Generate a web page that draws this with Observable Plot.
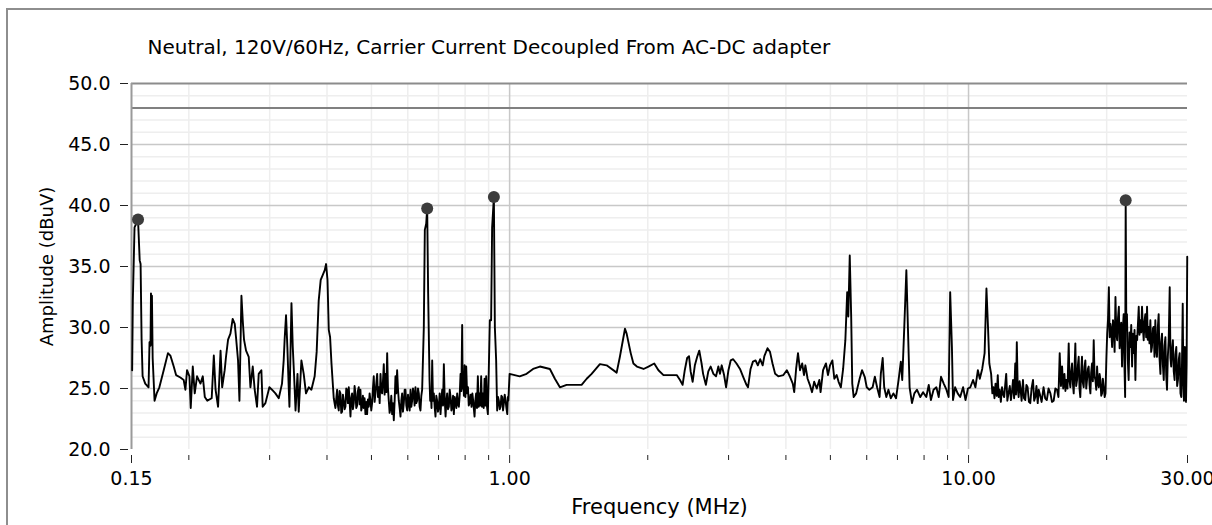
<!DOCTYPE html>
<html><head><meta charset="utf-8">
<script src="https://cdn.jsdelivr.net/npm/d3@7"></script>
<script src="https://cdn.jsdelivr.net/npm/@observablehq/plot@0.6"></script>
<style>
html,body{margin:0;padding:0;background:#fff;}
#chart{width:1212px;height:525px;}
#chart svg{display:block;}
</style></head><body>
<div id="chart"></div>
<script>
const title = "Neutral, 120V/60Hz, Carrier Current Decoupled From AC-DC adapter";
const xLabel = "Frequency (MHz)";
const yLabel = "Amplitude (dBuV)";
const xLabelTicks = [0.15, 1, 10, 30];
const xMinorTicks = [0.2,0.3,0.4,0.5,0.6,0.7,0.8,0.9,2,3,4,5,6,7,8,9,20];
const xGridMajor = [1, 10];
const yTicks = [20, 25, 30, 35, 40, 45, 50];
const yMinorTicks = [21,22,23,24,26,27,28,29,31,32,33,34,36,37,38,39,41,42,43,44,46,47,49];
const limitLine = 48;

// [frequency MHz, amplitude dBuV], 0.15–1 MHz band
const lowBand = [[0.1505,26.5],[0.151,32.2],[0.1523,38.2],[0.155,38.85],[0.1563,35.5],[0.157,35.2],[0.1578,29.0],[0.1586,26.0],[0.1607,25.4],[0.1634,25.1],[0.1642,28.8],[0.1650,28.5],[0.1654,32.8],[0.1658,28.6],[0.1662,32.6],[0.1668,27.5],[0.1684,24.0],[0.1702,24.6],[0.1725,25.1],[0.1763,26.5],[0.1801,27.9],[0.1823,27.7],[0.1854,26.8],[0.1876,26.1],[0.1917,25.9],[0.1949,25.7],[0.1966,24.9],[0.1982,26.5],[0.2006,26.0],[0.2019,23.4],[0.2040,26.8],[0.2060,24.6],[0.2084,26.0],[0.2120,25.4],[0.2145,26.0],[0.2167,24.3],[0.2194,24.0],[0.2243,24.2],[0.2267,27.7],[0.2287,24.9],[0.2316,23.5],[0.2345,28.1],[0.2364,25.1],[0.2394,26.5],[0.2410,27.6],[0.2435,29.0],[0.2464,29.5],[0.2492,30.7],[0.2518,30.3],[0.2534,29.2],[0.2560,27.3],[0.2578,24.0],[0.2604,32.6],[0.2621,30.6],[0.2638,29.0],[0.2665,28.1],[0.2701,27.6],[0.2724,25.1],[0.2756,26.8],[0.2783,24.9],[0.2816,23.5],[0.2840,26.2],[0.2878,26.5],[0.2897,23.5],[0.2937,23.8],[0.2996,25.1],[0.3035,24.9],[0.3088,24.6],[0.3140,24.2],[0.3192,25.4],[0.3219,27.3],[0.3235,29.1],[0.3257,31.0],[0.3279,28.4],[0.3301,25.1],[0.3313,23.5],[0.3347,32.0],[0.3369,28.4],[0.3392,26.0],[0.3416,23.2],[0.3450,26.2],[0.3471,23.1],[0.3518,27.3],[0.3559,26.2],[0.3600,24.6],[0.3650,25.1],[0.3699,24.9],[0.3760,26.0],[0.3798,28.0],[0.3837,32.2],[0.3876,33.9],[0.3915,34.3],[0.3955,34.7],[0.3982,35.2],[0.4010,33.9],[0.4036,29.8],[0.4063,29.2],[0.4092,27.0],[0.4138,24.2],[0.4173,23.4],[0.4208,24.9],[0.4225,23.6],[0.4243,23.2],[0.4261,24.8],[0.4279,24.6],[0.4297,23.0],[0.4315,23.1],[0.4333,24.5],[0.4351,24.0],[0.4370,23.3],[0.4388,23.5],[0.4406,25.0],[0.4425,24.9],[0.4443,23.8],[0.4462,25.1],[0.4481,23.9],[0.4500,22.7],[0.4518,24.2],[0.4537,24.6],[0.4556,23.3],[0.4575,23.8],[0.4594,25.2],[0.4614,24.6],[0.4633,23.4],[0.4652,23.6],[0.4671,24.8],[0.4691,25.1],[0.4711,23.7],[0.4731,24.9],[0.4750,23.2],[0.4770,23.5],[0.4790,24.4],[0.4810,23.4],[0.4830,24.2],[0.4851,22.9],[0.4871,23.9],[0.4892,22.9],[0.4912,24.1],[0.4933,23.5],[0.4954,24.6],[0.4975,24.0],[0.4995,23.2],[0.5016,23.8],[0.5037,25.0],[0.5058,26.0],[0.5080,23.9],[0.5101,24.6],[0.5123,25.4],[0.5145,26.2],[0.5166,24.3],[0.5188,25.1],[0.5210,23.8],[0.5232,26.2],[0.5253,24.8],[0.5275,24.6],[0.5297,25.6],[0.5319,27.0],[0.5341,24.5],[0.5364,26.2],[0.5387,24.7],[0.5410,27.9],[0.5432,25.0],[0.5454,24.0],[0.5477,23.0],[0.5500,23.4],[0.5523,24.4],[0.5546,22.9],[0.5570,23.8],[0.5593,22.4],[0.5617,24.0],[0.5640,26.0],[0.5663,24.6],[0.5687,26.5],[0.5711,25.0],[0.5735,24.0],[0.5760,23.4],[0.5784,22.7],[0.5808,24.0],[0.5832,24.6],[0.5856,23.1],[0.5881,23.8],[0.5906,24.9],[0.5931,24.9],[0.5956,23.6],[0.5981,23.2],[0.6006,24.5],[0.6031,23.8],[0.6056,23.2],[0.6082,24.9],[0.6107,23.5],[0.6132,24.0],[0.6158,25.0],[0.6183,24.6],[0.6209,23.6],[0.6235,25.1],[0.6261,23.8],[0.6288,24.0],[0.6314,25.0],[0.6341,24.6],[0.6367,23.5],[0.6394,23.2],[0.6421,24.4],[0.6448,24.9],[0.6502,30.0],[0.6535,38.0],[0.6580,38.5],[0.6613,39.75],[0.6645,32.8],[0.6691,25.7],[0.6713,24.0],[0.6736,24.6],[0.6758,23.4],[0.6781,27.3],[0.6809,24.0],[0.6837,24.6],[0.6866,23.5],[0.6895,22.7],[0.6923,24.4],[0.6952,24.0],[0.6981,23.1],[0.7011,23.5],[0.7041,24.6],[0.7071,22.9],[0.7100,24.0],[0.7130,24.9],[0.7160,23.6],[0.7190,27.0],[0.7221,24.1],[0.7252,22.7],[0.7281,24.0],[0.7310,24.6],[0.7341,23.3],[0.7373,23.5],[0.7404,24.9],[0.7436,24.3],[0.7467,23.2],[0.7498,23.5],[0.7529,24.4],[0.7560,22.9],[0.7592,24.3],[0.7624,24.0],[0.7655,23.4],[0.7687,24.6],[0.7719,23.7],[0.7752,23.5],[0.7785,24.5],[0.7818,26.2],[0.7850,24.8],[0.7882,30.2],[0.7902,25.0],[0.7922,26.2],[0.7950,24.4],[0.7978,26.9],[0.8010,24.3],[0.8043,26.8],[0.8078,24.6],[0.8114,25.1],[0.8146,23.6],[0.8178,23.8],[0.8220,24.5],[0.8261,23.5],[0.8295,24.6],[0.8329,24.0],[0.8358,23.3],[0.8387,22.7],[0.8420,24.0],[0.8454,24.6],[0.8490,23.4],[0.8527,26.0],[0.8563,23.5],[0.8600,24.6],[0.8635,23.6],[0.8670,26.0],[0.8707,23.5],[0.8744,24.6],[0.8781,23.4],[0.8819,25.8],[0.8855,23.6],[0.8891,26.0],[0.8929,23.5],[0.8967,22.9],[0.9055,30.6],[0.9114,30.6],[0.9160,38.2],[0.9241,40.7],[0.9287,30.0],[0.9347,27.3],[0.9394,23.2],[0.9435,24.3],[0.9476,24.0],[0.9516,23.3],[0.9557,23.5],[0.9596,24.4],[0.9636,24.3],[0.9676,23.2],[0.9716,23.8],[0.9758,24.5],[0.9800,24.0],[0.9841,23.4],[0.9883,22.9],[0.9910,24.3],[0.9935,24.0]];

// [frequency MHz, amplitude dBuV], 1–30 MHz band
const highBand = [[1.000,26.2],[1.052,26.0],[1.089,26.2],[1.125,26.6],[1.164,26.8],[1.224,26.6],[1.255,25.8],[1.287,25.1],[1.331,25.3],[1.435,25.3],[1.472,25.8],[1.509,26.2],[1.573,27.0],[1.627,26.9],[1.711,26.3],[1.739,27.6],[1.784,29.9],[1.799,29.5],[1.836,27.9],[1.861,27.05],[1.894,26.8],[1.958,26.6],[2.007,26.8],[2.066,27.05],[2.110,26.5],[2.164,26.1],[2.313,26.1],[2.351,25.7],[2.382,25.3],[2.408,26.5],[2.437,27.5],[2.460,27.65],[2.480,26.4],[2.505,25.55],[2.533,26.9],[2.563,27.6],[2.590,28.1],[2.620,27.05],[2.640,26.2],[2.677,25.3],[2.710,26.4],[2.742,26.8],[2.780,26.2],[2.817,26.0],[2.850,26.8],[2.873,26.2],[2.898,26.9],[2.933,26.1],[2.963,25.1],[2.998,26.5],[3.032,27.3],[3.070,27.4],[3.122,27.05],[3.177,26.6],[3.228,25.96],[3.282,25.3],[3.307,25.1],[3.350,26.6],[3.390,27.2],[3.435,27.3],[3.474,26.9],[3.515,27.4],[3.560,26.9],[3.590,27.65],[3.647,28.3],[3.693,28.0],[3.740,27.05],[3.790,26.2],[3.850,26.0],[3.950,26.1],[4.018,26.5],[4.083,25.96],[4.140,25.4],[4.170,24.7],[4.210,26.6],[4.250,27.9],[4.293,26.5],[4.340,27.05],[4.380,26.1],[4.410,26.9],[4.460,25.8],[4.510,25.3],[4.560,24.7],[4.610,25.55],[4.670,25.0],[4.730,25.7],[4.760,24.7],[4.820,26.5],[4.890,27.05],[4.940,26.1],[4.990,26.9],[5.050,27.3],[5.100,25.8],[5.160,26.1],[5.210,25.55],[5.270,25.1],[5.330,26.6],[5.390,28.96],[5.440,32.9],[5.470,30.9],[5.510,35.9],[5.550,30.9],[5.580,25.4],[5.620,24.3],[5.690,24.6],[5.790,25.8],[5.860,26.5],[5.940,25.96],[6.000,25.1],[6.080,24.9],[6.180,25.1],[6.250,25.96],[6.320,25.1],[6.400,24.3],[6.440,26.2],[6.500,27.5],[6.550,25.1],[6.620,24.3],[6.690,24.9],[6.770,24.2],[6.860,24.6],[6.950,24.2],[7.040,25.7],[7.120,27.2],[7.170,25.7],[7.240,29.8],[7.320,34.7],[7.380,29.8],[7.440,25.1],[7.530,23.8],[7.620,24.6],[7.720,24.9],[7.850,24.3],[7.960,24.7],[8.090,24.3],[8.190,25.3],[8.280,24.05],[8.390,24.9],[8.510,25.1],[8.610,24.3],[8.710,25.96],[8.830,25.4],[8.950,24.9],[9.050,24.3],[9.120,32.9],[9.200,28.4],[9.250,24.05],[9.350,25.1],[9.470,24.6],[9.590,24.3],[9.730,25.1],[9.850,24.05],[9.970,25.0],[10.09,25.1],[10.23,25.7],[10.35,25.1],[10.48,26.5],[10.58,25.8],[10.71,26.6],[10.84,27.9],[10.94,33.2],[11.03,29.9],[11.10,27.05],[11.20,26.2],[11.27,24.6],[11.33,25.1],[11.39,24.2],[11.45,25.4],[11.52,24.4],[11.58,26.1],[11.63,24.3],[11.69,24.9],[11.76,23.9],[11.83,25.1],[11.90,24.5],[11.96,24.3],[12.02,25.3],[12.08,26.2],[12.15,24.0],[12.22,24.6],[12.30,25.2],[12.37,24.05],[12.44,24.8],[12.50,25.7],[12.57,24.2],[12.64,27.05],[12.69,24.5],[12.74,28.8],[12.80,25.0],[12.86,24.3],[12.92,25.6],[12.97,25.1],[13.05,24.0],[13.14,25.7],[13.21,24.2],[13.29,24.05],[13.37,25.3],[13.45,25.1],[13.54,23.9],[13.63,23.8],[13.72,25.0],[13.82,25.7],[13.90,24.0],[13.98,24.3],[14.06,25.2],[14.15,23.8],[14.22,24.9],[14.29,24.6],[14.43,23.9],[14.57,25.1],[14.69,24.2],[14.81,24.05],[14.94,25.0],[15.08,24.6],[15.20,23.9],[15.33,24.0],[15.46,25.0],[15.59,24.9],[15.70,24.3],[15.80,27.9],[15.90,25.2],[15.99,26.8],[16.08,25.0],[16.18,26.2],[16.26,24.8],[16.34,25.7],[16.43,25.0],[16.53,28.7],[16.60,25.6],[16.67,25.1],[16.74,26.4],[16.81,27.05],[16.88,25.4],[16.95,24.6],[17.02,26.6],[17.09,28.7],[17.16,25.2],[17.24,25.7],[17.31,26.9],[17.38,27.6],[17.45,25.0],[17.52,24.3],[17.60,26.4],[17.67,27.6],[17.74,25.5],[17.82,25.1],[17.90,26.8],[17.97,27.3],[18.05,25.0],[18.12,25.7],[18.20,26.6],[18.27,26.8],[18.35,25.3],[18.43,24.6],[18.50,26.3],[18.58,27.05],[18.66,25.6],[18.74,28.96],[18.82,26.0],[18.90,25.7],[18.98,24.9],[19.06,26.8],[19.14,25.4],[19.22,25.1],[19.30,26.2],[19.38,25.7],[19.46,24.4],[19.54,24.6],[19.62,25.8],[19.71,25.1],[19.80,24.3],[19.88,24.6],[19.97,27.5],[20.05,29.5],[20.13,30.6],[20.22,33.3],[20.30,29.2],[20.38,30.3],[20.46,29.8],[20.55,28.4],[20.64,30.6],[20.73,30.05],[20.81,28.0],[20.90,32.5],[20.99,29.5],[21.08,28.96],[21.17,30.8],[21.26,31.7],[21.34,28.3],[21.42,29.5],[21.51,30.4],[21.60,26.8],[21.69,29.9],[21.78,31.1],[21.86,27.0],[21.94,24.3],[22.00,40.43],[22.07,30.0],[22.14,31.1],[22.23,27.4],[22.33,25.7],[22.43,29.6],[22.53,28.4],[22.62,30.2],[22.72,26.8],[22.81,29.5],[22.91,27.9],[23.00,29.8],[23.10,25.7],[23.20,29.3],[23.30,28.96],[23.39,30.2],[23.49,31.7],[23.58,29.4],[23.68,30.6],[23.78,29.6],[23.88,31.7],[23.98,30.0],[24.08,28.96],[24.18,30.5],[24.28,31.1],[24.38,29.2],[24.49,31.7],[24.58,29.0],[24.68,30.05],[24.79,28.7],[24.90,30.6],[25.00,28.0],[25.10,28.4],[25.21,29.9],[25.31,30.05],[25.42,27.6],[25.53,30.6],[25.63,28.2],[25.74,27.6],[25.85,30.0],[25.96,31.1],[26.07,27.5],[26.19,26.2],[26.29,28.8],[26.40,29.5],[26.51,27.0],[26.63,25.7],[26.74,28.5],[26.85,29.2],[26.96,26.1],[27.07,24.9],[27.18,27.6],[27.30,28.96],[27.44,33.3],[27.54,27.5],[27.64,26.8],[27.76,28.2],[27.88,28.96],[28.00,26.4],[28.12,25.7],[28.24,27.8],[28.36,28.4],[28.48,25.2],[28.60,25.7],[28.72,27.4],[28.84,27.9],[28.96,24.6],[29.08,24.3],[29.18,27.0],[29.29,31.96],[29.38,25.5],[29.47,24.0],[29.54,26.5],[29.60,28.4],[29.69,24.4],[29.78,23.9],[29.87,27.0],[29.96,35.8]];

// marked peaks [frequency MHz, amplitude dBuV]
const peaks = [[0.155, 38.85], [0.6613, 39.75], [0.9241, 40.7], [22.0, 40.43]];

const spectrum = lowBand.concat(highBand).map(([f, a]) => ({f, a}));
const peakRows = peaks.map(([f, a]) => ({f, a}));

const chart = Plot.plot({
  width: 1212, height: 525,
  marginLeft: 131, marginRight: 25, marginTop: 83, marginBottom: 76,
  style: {fontFamily: "DejaVu Sans", fontSize: "19px", color: "#000", background: "#fff"},
  x: {type: "log", domain: [0.15, 30]},
  y: {domain: [20, 50]},
  marks: [
    Plot.gridY({ticks: yMinorTicks, stroke: "#eeeeee", strokeOpacity: 1, strokeWidth: 1.5}),
    Plot.gridX({ticks: xMinorTicks, stroke: "#eeeeee", strokeOpacity: 1, strokeWidth: 1.5}),
    Plot.gridY({ticks: yTicks.slice(1, -1), stroke: "#c8c8c8", strokeOpacity: 1, strokeWidth: 1.5}),
    Plot.gridX({ticks: xGridMajor, stroke: "#c8c8c8", strokeOpacity: 1, strokeWidth: 1.5}),
    Plot.ruleY([50], {stroke: "#8c8c8c", strokeWidth: 2}),
    Plot.ruleY([limitLine], {stroke: "#808080", strokeWidth: 2}),
    Plot.ruleX([0.15], {stroke: "#9a9a9a", strokeWidth: 2}),
    Plot.line(spectrum, {x: "f", y: "a", stroke: "#000", strokeWidth: 1.9}),
    Plot.dot(peakRows, {x: "f", y: "a", r: 6, fill: "#3c3c3c", stroke: "none"}),
    Plot.axisY({ticks: yTicks, tickSize: 8, dx: -3, tickPadding: 10, tickFormat: d => d.toFixed(1), label: null, stroke: "#222"}),
    Plot.axisX({ticks: xMinorTicks, tickSize: 5, dy: 6, tickFormat: () => "", label: null, stroke: "#222"}),
    Plot.axisX({ticks: xLabelTicks, tickSize: 8, dy: 6, tickFormat: () => "", label: null, stroke: "#222"}),
    Plot.axisX({ticks: xLabelTicks, tickSize: 0, tickPadding: 22, tickFormat: d => d.toFixed(2), label: null}),
    Plot.text([xLabel], {text: d => d, frameAnchor: "bottom", dy: 58, lineAnchor: "middle", fontSize: 21}),
    Plot.text([yLabel], {text: d => d, frameAnchor: "left", dx: -84, rotate: -90, lineAnchor: "middle", textAnchor: "middle", fontSize: 18}),
    Plot.text([title], {text: d => d, frameAnchor: "top-left", dx: 16, dy: -36, textAnchor: "start", lineAnchor: "middle", fontSize: 20})
  ]
});
// outer panel border (left and top edges only), drawn behind everything
d3.select(chart).insert("path", ":first-child")
  .attr("d", "M7,525V9H1212")
  .attr("fill", "none").attr("stroke", "#8e8e8e").attr("stroke-width", 2);
document.getElementById("chart").appendChild(chart);
</script></body></html>
